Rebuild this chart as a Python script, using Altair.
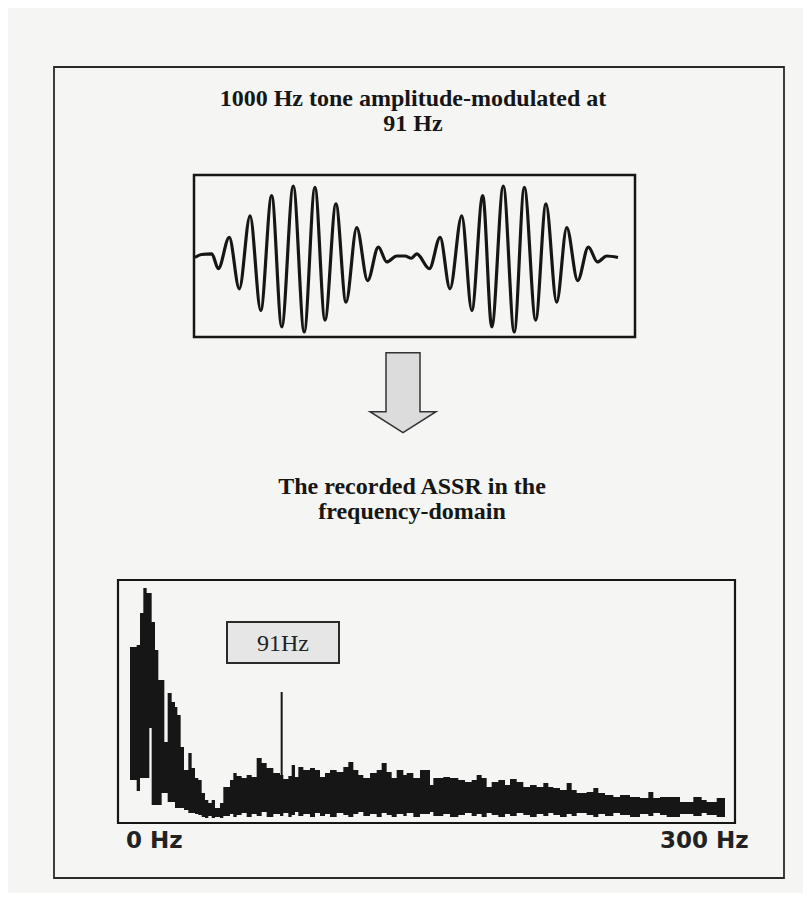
import altair as alt
import pandas as pd

# ---- waveform (1000 Hz tone AM at 91 Hz), extrema ----
wave_t = [0, 0.30, 0.80, 1.11, 1.63, 2.11, 2.62, 3.13, 3.65, 4.13, 4.68, 5.20, 5.71,
          6.19, 6.71, 7.19, 7.70, 8.22, 8.73, 9.13, 9.6, 10.0, 10.3, 10.56, 11.16,
          11.67, 12.14, 12.70, 13.18, 13.70, 14.13, 14.68, 15.20, 15.68, 16.22,
          16.71, 17.22, 17.70, 18.22, 18.73, 19.16, 19.6, 20.14]
wave_v = [0, 0.04, 0.05, -0.15, 0.27, -0.42, 0.56, -0.71, 0.83, -0.93, 0.96, -1.0, 0.94,
          -0.84, 0.72, -0.60, 0.40, -0.31, 0.14, -0.06, 0.02, 0.02, -0.01, 0.05, -0.15,
          0.27, -0.42, 0.56, -0.71, 0.83, -0.93, 0.96, -1.0, 0.94, -0.84,
          0.72, -0.60, 0.40, -0.31, 0.14, -0.06, 0.02, 0.0]

# ---- spectrum: breakpoints (Hz) with upper / lower edge of the noise band ----
spec_freq = [0, 4, 6, 8, 10, 11.6, 13, 15, 17, 19,
             20.6, 22.6, 25, 27, 28.4, 30.4, 32.4, 35, 37, 39,
             41, 43, 45, 47, 49, 51, 54, 56, 60, 62,
             64, 67, 70, 73, 76, 79, 82, 86, 90, 92,
             95, 97, 99, 101, 104, 108, 111, 114, 117, 120,
             124, 128, 131, 134, 137, 140, 144, 148, 151, 154,
             157, 160, 164, 166, 170, 174, 180, 182, 188, 192,
             197, 201, 205, 208, 211, 214, 217, 221, 225, 228,
             232, 236, 240, 244, 248, 251, 254, 258, 262, 265,
             268, 274, 278, 281, 285, 290, 294, 300, 306, 311,
             314, 318, 322, 330, 338, 343, 346, 352, 357]
spec_upper = [176, 178, 210, 235, 230, 230, 201, 173, 143, 143,
              81, 130, 121, 116, 108, 76, 53, 70, 55, 45,
              43, 30, 23, 20, 23, 15, 20, 36, 43, 50,
              47, 45, 48, 46, 65, 60, 55, 50, 48, 44,
              47, 58, 46, 56, 53, 55, 53, 46, 50, 53,
              51, 56, 61, 53, 48, 45, 50, 53, 60, 51,
              45, 53, 48, 50, 45, 53, 38, 45, 46, 45,
              43, 41, 43, 48, 45, 36, 41, 43, 38, 44,
              41, 36, 38, 36, 40, 36, 35, 33, 40, 33,
              30, 31, 35, 30, 28, 26, 28, 26, 25, 31,
              25, 26, 26, 21, 26, 23, 21, 25, 25]
spec_lower = [43, 32, 45, 45, 45, 95, 18, 18, 18, 30,
              30, 21, 21, 15, 15, 15, 13, 10, 10, 9,
              8, 6, 5, 7, 5, 6, 5, 7, 9, 6,
              8, 10, 6, 9, 7, 11, 6, 9, 7, 10,
              6, 8, 11, 7, 9, 6, 10, 7, 9, 6,
              10, 8, 6, 9, 11, 7, 9, 6, 10, 8,
              6, 9, 7, 10, 6, 9, 11, 7, 9, 6,
              8, 10, 7, 9, 6, 10, 8, 6, 9, 7,
              10, 8, 6, 9, 7, 10, 8, 6, 9, 7,
              10, 8, 6, 9, 7, 10, 8, 6, 9, 7,
              10, 8, 6, 9, 7, 10, 8, 6, 8]
spike_freq = [91]
spike_top = [131]
spike_base = [9]

title_top = ["1000 Hz tone amplitude-modulated at", "91 Hz"]
title_bottom = ["The recorded ASSR in the", "frequency-domain"]
peak_label = "91Hz"
axis_labels = ["0 Hz", "300 Hz"]

assert len(wave_t) == len(wave_v)
assert len(spec_freq) == len(spec_upper) == len(spec_lower)

W, H = 795, 885
INK = "#161616"
one = pd.DataFrame({"k": [0]})

wave_df = pd.DataFrame({"t": wave_t, "v": wave_v})
spec_df = pd.DataFrame({"f": spec_freq, "up": spec_upper, "lo": spec_lower})
spike_df = pd.DataFrame({"fs": spike_freq, "top": spike_top, "base": spike_base})

wx = alt.Scale(domain=[0, 20.14], range=[187, 610])
wy = alt.Scale(domain=[-1, 1], range=[324, 175])
sx = alt.Scale(domain=[0, 357], range=[122, 717])
sy = alt.Scale(domain=[0, 243], range=[815, 572])


def frame(x1, y1, x2, y2, sw, fill="transparent", stroke=INK):
    return alt.Chart(one).mark_rect(fill=fill, stroke=stroke, strokeWidth=sw).encode(
        x=alt.value(x1), x2=alt.value(x2), y=alt.value(y1), y2=alt.value(y2))


def label(txt, x, y, size, font, weight="bold", align="center", baseline="alphabetic",
          lh=None, color=INK):
    kw = dict(text=txt, font=font, fontSize=size, fontWeight=weight, align=align,
              baseline=baseline, color=color)
    if lh is not None:
        kw["lineHeight"] = lh
    return alt.Chart(one).mark_text(**kw).encode(x=alt.value(x), y=alt.value(y))


outer = frame(46, 59, 776, 870, 1.8, stroke="#2a2a2a")
wave_box = frame(186, 167, 627, 329, 2.5)
spec_box = frame(110, 572, 727, 815, 2.2)

wave = alt.Chart(wave_df).mark_line(color=INK, strokeWidth=3.2, interpolate="monotone").encode(
    x=alt.X("t:Q", scale=wx, axis=None),
    y=alt.Y("v:Q", scale=wy, axis=None))

arrow_path = "M-0.425,-1L0.425,-1L0.425,0.475L0.825,0.475L0,1L-0.825,0.475L-0.425,0.475Z"
arrow = alt.Chart(one).mark_point(shape=arrow_path, size=6400, filled=True, fill="#dcdcdc",
                                  stroke="#333333", strokeWidth=1.5, opacity=1).encode(
    x=alt.value(395), y=alt.value(384.7))

spec = alt.Chart(spec_df).mark_area(color=INK, interpolate="step-after").encode(
    x=alt.X("f:Q", scale=sx, axis=None),
    y=alt.Y("up:Q", scale=sy, axis=None),
    y2="lo:Q")

spike = alt.Chart(spike_df).mark_rule(color=INK, strokeWidth=2).encode(
    x=alt.X("fs:Q", scale=sx, axis=None),
    y=alt.Y("top:Q", scale=sy, axis=None),
    y2="base:Q")

peak_box = frame(219, 614, 331, 655, 2, fill="#e6e6e6", stroke="#2a2a2a")
peak_txt = label(peak_label, 275, 643, 24, "Liberation Serif", weight="normal", color="#222222")

t1 = label(title_top, 405, 98, 24, "Liberation Serif", lh=25)
t2 = label(title_bottom, 404, 486, 24, "Liberation Serif", lh=25)
ax0 = label(axis_labels[0], 118, 840, 23, "DejaVu Sans", align="left", color="#222222")
ax1 = label(axis_labels[1], 652, 840, 23, "DejaVu Sans", align="left", color="#222222")

chart = alt.layer(
    outer, wave_box, wave, arrow, t1, t2, spec_box, spec, spike, peak_box, peak_txt, ax0, ax1
).resolve_scale(x="independent", y="independent").properties(
    width=W, height=H, autosize=alt.AutoSizeParams(type="none"), padding=0,
    background="#f5f5f3"
).configure_view(stroke=None)

chart.save("out.html", embed_options={"renderer": "svg", "actions": False})
